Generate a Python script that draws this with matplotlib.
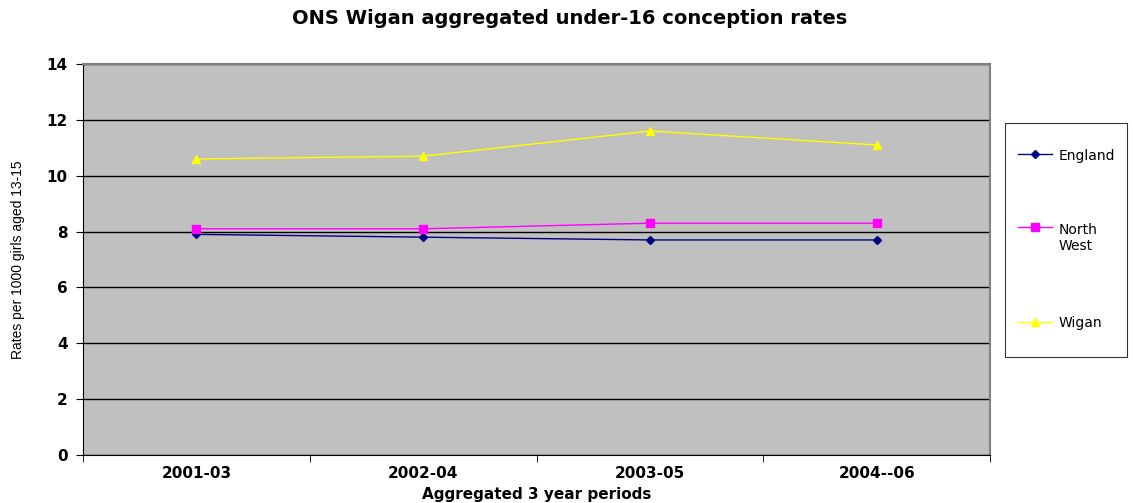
import matplotlib.pyplot as plt
from matplotlib.legend_handler import HandlerLine2D
import numpy as np

# ONS under-16 conception rates, 3 year aggregates
periods = ['2001-03', '2002-04', '2003-05', '2004--06']
england = [7.9, 7.8, 7.7, 7.7]
north_west = [8.1, 8.1, 8.3, 8.3]
wigan = [10.6, 10.7, 11.6, 11.1]


# legend line nudged up/down (points) so it sits level with the first text line
class NudgedLine(HandlerLine2D):
    def __init__(self, nudge, **kw):
        super().__init__(**kw)
        self.nudge = nudge

    def create_artists(self, legend, orig_handle, xdescent, ydescent, width, height,
                       fontsize, trans):
        return super().create_artists(legend, orig_handle, xdescent, ydescent - 2 * self.nudge,
                                      width, height, fontsize, trans)


# the original is stretched sideways, so the wide DejaVu face fits it better
plt.rcParams['font.family'] = ['DejaVu Sans']

fig = plt.figure(figsize=(11.33, 5.03), dpi=100)
ax = fig.add_axes([83 / 1133, 1 - 455 / 503, 907 / 1133, 391 / 503])
ax.set_facecolor('#C0C0C0')

x = np.arange(len(periods))
l1, = ax.plot(x, england, color='#000080', marker='D', markersize=4, lw=1, label='England')
l2, = ax.plot(x, north_west, color='#FF00FF', marker='s', markersize=6, lw=1, label='North\nWest')
l3, = ax.plot(x, wigan, color='#FFFF00', marker='^', markersize=6, lw=1, label='Wigan')

ax.set_xlim(-0.5, 3.5)
ax.set_ylim(0, 14)
ax.set_yticks(range(0, 15, 2))
ax.yaxis.grid(True, color='black', lw=1)
ax.set_axisbelow(True)

ax.set_xticks(x)
ax.set_xticklabels(periods, fontweight='bold', fontsize=11)
ax.set_xticks(np.arange(-0.5, 4, 1), minor=True)
ax.tick_params(axis='x', which='major', length=0, pad=8)
ax.tick_params(axis='x', which='minor', length=5, direction='out', color='black')
ax.tick_params(axis='y', length=5, direction='out', labelsize=11, pad=6)
for lab in ax.get_yticklabels():
    lab.set_fontweight('bold')

for side in ['top', 'right']:
    ax.spines[side].set_color('#808080')
    ax.spines[side].set_linewidth(1.5)
ax.spines['left'].set_color('black')
ax.spines['bottom'].set_color('black')

ax.set_ylabel('Rates per 1000 girls aged 13-15', fontsize=10,
              family=['Liberation Sans', 'DejaVu Sans'])
ax.yaxis.set_label_coords(-58 / 907, 0.5)
ax.set_xlabel('Aggregated 3 year periods', fontweight='bold', fontsize=11)
ax.xaxis.set_label_coords(0.5, -40 / 391)
ax.xaxis.label.set_va('center')
fig.suptitle('ONS Wigan aggregated under-16 conception rates', fontweight='bold',
             fontsize=14, x=569.5 / 1133, y=1 - 18 / 503, va='center')

leg = fig.legend(handles=[l1, l2, l3],
                 handler_map={l1: NudgedLine(-4.8), l2: NudgedLine(2.9), l3: NudgedLine(-4.8)},
                 loc='upper left', bbox_to_anchor=(1005 / 1133, 1 - 123 / 503),
                 frameon=True, fancybox=False, edgecolor='black', fontsize=10,
                 labelspacing=3.05, borderpad=0.9, handlelength=2.45, handleheight=4.2,
                 handletextpad=0.5, borderaxespad=0)
leg.get_frame().set_linewidth(0.8)

fig.savefig('out.png', dpi=100)
